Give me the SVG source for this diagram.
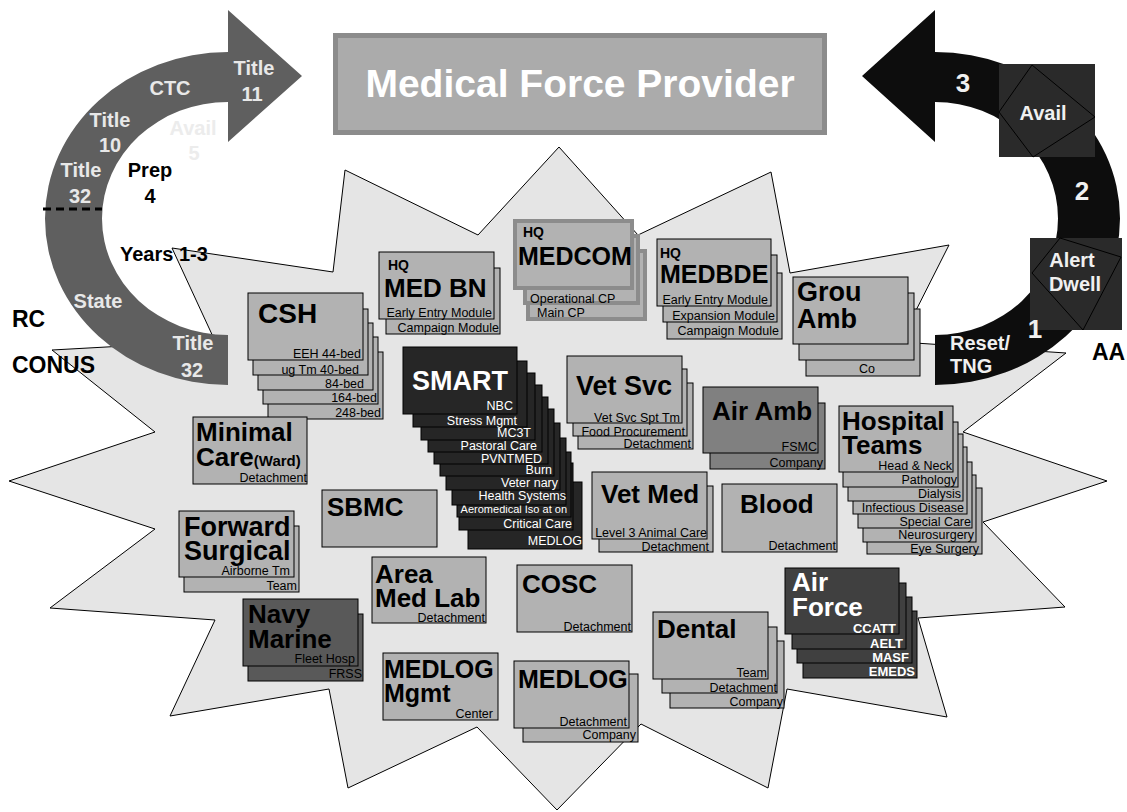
<svg xmlns="http://www.w3.org/2000/svg" width="1127" height="812" viewBox="0 0 1127 812">
<style>
text{font-family:"Liberation Sans",Arial,sans-serif}
.b{fill:#b2b2b2;stroke:#000;stroke-width:1}
.mc{fill:#b2b2b2;stroke:#8c8c8c;stroke-width:4}
.dk{fill:#262626;stroke:#000;stroke-width:1}
.af{fill:#404040;stroke:#000;stroke-width:1}
.nv{fill:#595959;stroke:#000;stroke-width:1}
.am{fill:#808080;stroke:#000;stroke-width:1}
.t{font-weight:bold;font-size:26px;fill:#000}
.tw{font-weight:bold;font-size:27px;fill:#fff}
.hq{font-weight:bold;font-size:14px;fill:#000}
.s{font-size:12.5px;fill:#000;text-anchor:end}
.sw{font-size:12.5px;fill:#fff;text-anchor:end}
.sb{font-size:13px;font-weight:bold;fill:#fff;text-anchor:end}
.al{font-weight:bold;font-size:20px;fill:#e8e8e8;text-anchor:middle}
.lk{font-weight:bold;font-size:20px;fill:#000}
.big{font-weight:bold;font-size:23px;fill:#000}
.num{font-weight:bold;font-size:26px;fill:#f0f0f0;text-anchor:middle}
</style>

<g id="burst">
<polygon points="559,147 638,235 771,172 790,273 949,245 900,342 1066,353 963,432 1107,481 983,522 1065,607 918,618 947,717 787,689 768,788 641,724 557,810 477,727 348,788 329,689 170,716 215,620 50,608 155,529 9,481 155,432 52,350 215,341 172,248 333,272 345,170 478,235" fill="#e5e5e5" stroke="#000" stroke-width="1"/>
</g>

<g id="cycle-left">
<path d="M228,385 A183,166.5 0 0 1 228,52 L228,10 L302,76 L228,142 L228,102 A126,116.5 0 0 0 228,335 Z" fill="#5f5f5f"/>
<line x1="43" y1="209" x2="102" y2="209" stroke="#000" stroke-width="3" stroke-dasharray="8,5"/>
<text class="al" x="254" y="75">Title</text>
<text class="al" x="252" y="101">11</text>
<text class="al" x="170" y="95">CTC</text>
<text class="al" x="110" y="127">Title</text>
<text class="al" x="110" y="152">10</text>
<text class="al" x="81" y="177">Title</text>
<text class="al" x="80" y="203">32</text>
<text class="al" x="98" y="308">State</text>
<text class="al" x="193" y="350">Title</text>
<text class="al" x="192" y="377">32</text>
<text class="al" x="193" y="135" style="fill:#ececec">Avail</text>
<text class="al" x="194" y="160" style="fill:#ececec">5</text>
<text class="lk" x="150" y="177" text-anchor="middle">Prep</text>
<text class="lk" x="150" y="203" text-anchor="middle">4</text>
<text class="lk" x="120" y="261">Years 1-3</text>
<text class="big" x="12" y="327">RC</text>
<text class="big" x="12" y="373">CONUS</text>
</g>

<g id="cycle-right">
<path d="M935,385 A185,166.5 0 0 0 935,52 L935,10 L862,76 L935,142 L935,102 A123,116.5 0 0 1 935,335 Z" fill="#0d0d0d"/>
<rect x="999" y="64" width="96" height="93" fill="#2a2a2a"/>
<polygon points="1032,65 1095,117 1033,157 999,112" fill="none" stroke="#000" stroke-width="1"/>
<rect x="1030" y="238" width="92" height="92" fill="#2a2a2a"/>
<polygon points="1060,238 1121,257 1083,330 1032,273" fill="none" stroke="#000" stroke-width="1"/>
<text class="al" x="1043" y="120" style="fill:#f0f0f0">Avail</text>
<text class="al" x="1072" y="267" style="fill:#f0f0f0">Alert</text>
<text class="al" x="1075" y="291" style="fill:#f0f0f0">Dwell</text>
<text class="num" x="963" y="92">3</text>
<text class="num" x="1082" y="200">2</text>
<text class="num" x="1035" y="338">1</text>
<text class="al" x="950" y="350" style="fill:#f0f0f0;text-anchor:start">Reset/</text>
<text class="al" x="950" y="373" style="fill:#f0f0f0;text-anchor:start">TNG</text>
<text class="big" x="1092" y="360">AA</text>
</g>

<g id="title">
<rect x="335.5" y="35.5" width="489" height="97" fill="#ababab" stroke="#8c8c8c" stroke-width="5"/>
<text x="580" y="97" text-anchor="middle" style="font-weight:bold;font-size:39px;fill:#fff">Medical Force Provider</text>
</g>

<g id="connectors"></g>

<g id="csh">
<rect class="b" x="268" y="352" width="115" height="67"/><text class="s" x="381" y="417">248-bed</text>
<rect class="b" x="263" y="337" width="115" height="67"/><text class="s" x="377" y="402">164-bed</text>
<rect class="b" x="258" y="323" width="115" height="67"/><text class="s" x="364" y="388">84-bed</text>
<rect class="b" x="253" y="309" width="115" height="66"/><text class="s" x="359" y="374">ug Tm 40-bed</text>
<rect class="b" x="248" y="293" width="115" height="67"/>
<text class="t" x="258" y="323" style="font-size:28px">CSH</text>
<text class="s" x="361" y="358">EEH 44-bed</text>
</g>

<g id="medbn">
<rect class="b" x="386" y="268" width="114" height="66"/><text class="s" x="499" y="332">Campaign Module</text>
<rect class="b" x="379" y="252" width="115" height="67"/>
<text class="hq" x="388" y="270">HQ</text>
<text class="t" x="384" y="297">MED BN</text>
<text class="s" x="492" y="317">Early Entry Module</text>
</g>

<g id="medcom">
<rect class="mc" x="528" y="251" width="117" height="68"/><text class="s" x="537" y="317" style="text-anchor:start">Main CP</text>
<rect class="mc" x="525" y="236" width="113" height="67"/><text class="s" x="530" y="303" style="text-anchor:start">Operational CP</text>
<rect class="mc" x="515" y="221" width="117" height="67"/>
<text class="hq" x="523" y="237">HQ</text>
<text class="t" x="518" y="265" style="font-size:25px">MEDCOM</text>
</g>

<g id="medbde">
<rect class="b" x="667" y="273" width="115" height="66"/><text class="s" x="779" y="335">Campaign Module</text>
<rect class="b" x="663" y="255" width="114" height="67"/><text class="s" x="775" y="320">Expansion Module</text>
<rect class="b" x="657" y="239" width="114" height="67"/>
<text class="hq" x="660" y="258">HQ</text>
<text class="t" x="660" y="283" style="font-size:25px">MEDBDE</text>
<text class="s" x="768" y="304">Early Entry Module</text>
</g>

<g id="grou-amb">
<rect class="b" x="806" y="309" width="114" height="67"/><text class="s" x="867" y="373" style="text-anchor:middle">Co</text>
<rect class="b" x="799" y="293" width="115" height="67"/>
<rect class="b" x="793" y="277" width="115" height="67"/>
<text class="t" x="797" y="301" style="font-size:27px">Grou</text>
<text class="t" x="797" y="328" style="font-size:27px">Amb</text>
</g>

<g id="smart">
<rect class="dk" x="468" y="482" width="114" height="67"/><text class="sw" x="582" y="545">MEDLOG</text>
<rect class="dk" x="459" y="463" width="114" height="67"/><text class="sw" x="572" y="528">Critical Care</text>
<rect class="dk" x="457" y="452" width="114" height="65"/><text class="sw" x="567" y="513" style="font-size:11px">Aeromedical Iso at on</text>
<rect class="dk" x="452" y="438" width="114" height="67"/><text class="sw" x="566" y="500">Health Systems</text>
<rect class="dk" x="446" y="423" width="114" height="67"/><text class="sw" x="558" y="487">Veter nary</text>
<rect class="dk" x="440" y="409" width="114" height="67"/><text class="sw" x="552" y="474">Burn</text>
<rect class="dk" x="434" y="397" width="114" height="67"/><text class="sw" x="542" y="463">PVNTMED</text>
<rect class="dk" x="428" y="385" width="114" height="67"/><text class="sw" x="537" y="450">Pastoral Care</text>
<rect class="dk" x="421" y="373" width="114" height="67"/><text class="sw" x="531" y="437">MC3T</text>
<rect class="dk" x="413" y="361" width="114" height="66"/><text class="sw" x="517" y="425">Stress Mgmt</text>
<rect class="dk" x="403" y="347" width="114" height="67"/>
<text class="tw" x="412" y="390">SMART</text>
<text class="sw" x="513" y="410">NBC</text>
</g>

<g id="vet-svc">
<rect class="b" x="578" y="383" width="115" height="66"/><text class="s" x="691" y="448">Detachment</text>
<rect class="b" x="573" y="369" width="114" height="67"/><text class="s" x="685" y="436">Food Procurement</text>
<rect class="b" x="567" y="356" width="115" height="67"/>
<text class="t" x="576" y="395" style="font-size:27px">Vet Svc</text>
<text class="s" x="680" y="422">Vet Svc Spt Tm</text>
</g>

<g id="air-amb">
<rect class="am" x="710" y="403" width="115" height="66"/><text class="s" x="823" y="467">Company</text>
<rect class="am" x="703" y="387" width="115" height="66"/>
<text class="t" x="712" y="420">Air Amb</text>
<text class="s" x="817" y="451">FSMC</text>
</g>

<g id="hospital-teams">
<rect class="b" x="867" y="488" width="115" height="66"/><text class="s" x="979" y="553">Eye Surgery</text>
<rect class="b" x="863" y="475" width="113" height="67"/><text class="s" x="974" y="539">Neurosurgery</text>
<rect class="b" x="858" y="462" width="114" height="66"/><text class="s" x="971" y="526">Special Care</text>
<rect class="b" x="853" y="447" width="114" height="67"/><text class="s" x="964" y="512">Infectious Disease</text>
<rect class="b" x="848" y="434" width="115" height="67"/><text class="s" x="961" y="498">Dialysis</text>
<rect class="b" x="843" y="422" width="115" height="65"/><text class="s" x="957" y="484">Pathology</text>
<rect class="b" x="839" y="406" width="114" height="66"/>
<text class="t" x="842" y="430">Hospital</text>
<text class="t" x="842" y="454">Teams</text>
<text class="s" x="952" y="470">Head &amp; Neck</text>
</g>

<g id="vet-med">
<rect class="b" x="599" y="486" width="114" height="66"/><text class="s" x="709" y="551">Detachment</text>
<rect class="b" x="592" y="472" width="115" height="67"/>
<text class="t" x="601" y="503">Vet Med</text>
<text class="s" x="707" y="537">Level 3 Animal Care</text>
</g>

<g id="blood">
<rect class="b" x="722" y="484" width="115" height="68"/>
<text class="t" x="740" y="513">Blood</text>
<text class="s" x="836" y="550">Detachment</text>
</g>

<g id="minimal-care">
<rect class="b" x="193" y="417" width="114" height="67"/>
<text class="t" x="196" y="441">Minimal</text>
<text class="t" x="196" y="466">Care<tspan style="font-size:15px">(Ward)</tspan></text>
<text class="s" x="307" y="482">Detachment</text>
</g>

<g id="sbmc">
<rect class="b" x="322" y="490" width="115" height="57"/>
<text class="t" x="327" y="516">SBMC</text>
</g>

<g id="forward-surgical">
<rect class="b" x="184" y="526" width="115" height="66"/><text class="s" x="297" y="590">Team</text>
<rect class="b" x="179" y="511" width="115" height="66"/>
<text class="t" x="184" y="536" style="font-size:27px">Forward</text>
<text class="t" x="184" y="560" style="font-size:27px">Surgical</text>
<text class="s" x="290" y="575">Airborne Tm</text>
</g>

<g id="area-med-lab">
<rect class="b" x="372" y="557" width="114" height="66"/>
<text class="t" x="375" y="583">Area</text>
<text class="t" x="375" y="607">Med Lab</text>
<text class="s" x="485" y="622">Detachment</text>
</g>

<g id="cosc">
<rect class="b" x="517" y="565" width="115" height="67"/>
<text class="t" x="522" y="593">COSC</text>
<text class="s" x="631" y="631">Detachment</text>
</g>

<g id="navy-marine">
<rect class="nv" x="248" y="614" width="115" height="67"/><text class="s" x="362" y="678">FRSS</text>
<rect class="nv" x="243" y="599" width="115" height="67"/>
<text class="t" x="248" y="623">Navy</text>
<text class="t" x="248" y="648">Marine</text>
<text class="s" x="355" y="663">Fleet Hosp</text>
</g>

<g id="medlog-mgmt">
<rect class="b" x="383" y="653" width="115" height="67"/>
<text class="t" x="384" y="678" style="font-size:25px">MEDLOG</text>
<text class="t" x="384" y="702" style="font-size:25px">Mgmt</text>
<text class="s" x="493" y="718">Center</text>
</g>

<g id="medlog">
<rect class="b" x="523" y="674" width="115" height="68"/><text class="s" x="636" y="739">Company</text>
<rect class="b" x="514" y="661" width="115" height="67"/>
<text class="t" x="518" y="688" style="font-size:25px">MEDLOG</text>
<text class="s" x="627" y="726">Detachment</text>
</g>

<g id="dental">
<rect class="b" x="670" y="641" width="114" height="67"/><text class="s" x="783" y="706">Company</text>
<rect class="b" x="662" y="627" width="115" height="66"/><text class="s" x="777" y="692">Detachment</text>
<rect class="b" x="653" y="612" width="115" height="67"/>
<text class="t" x="657" y="638">Dental</text>
<text class="s" x="767" y="677">Team</text>
</g>

<g id="air-force">
<rect class="af" x="803" y="611" width="114" height="67"/><text class="sb" x="915" y="676">EMEDS</text>
<rect class="af" x="797" y="597" width="115" height="66"/><text class="sb" x="909" y="662">MASF</text>
<rect class="af" x="792" y="583" width="114" height="66"/><text class="sb" x="903" y="648">AELT</text>
<rect class="af" x="785" y="568" width="114" height="66"/>
<text class="tw" x="792" y="591" style="font-size:26px">Air</text>
<text class="tw" x="792" y="616" style="font-size:26px">Force</text>
<text class="sb" x="896" y="633">CCATT</text>
</g>
</svg>
